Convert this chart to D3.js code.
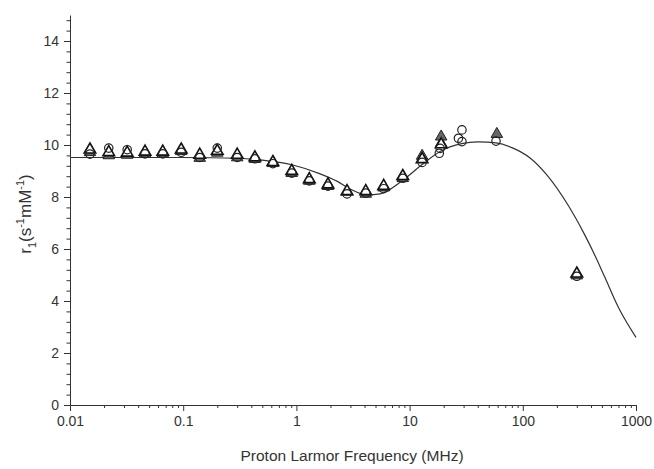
<!DOCTYPE html>
<html lang="en">
<head>
  <meta charset="UTF-8">
  <title>NMRD profile</title>
  <script src="https://d3js.org/d3.v7.min.js"></script>
  <style>
    body {
      margin: 0;
      padding: 0;
      background: #fff;
      font-family: Arial, "Liberation Sans", sans-serif;
    }
    .axis path, .axis line {
      stroke: #333;
    }
    .axis text {
      fill: #333;
      font-size: 14px;
      font-family: Arial, "Liberation Sans", sans-serif;
    }
  </style>
</head>
<body>
  <div id="chart"></div>

  <script>
    const circleFreq = [0.015, 0.022, 0.032, 0.046, 0.066, 0.096, 0.14, 0.2, 0.3, 0.43, 0.62, 0.91, 1.3, 1.9, 2.8, 4.1, 5.9, 8.7, 12.9, 18.3, 18.6, 27, 29, 29, 58, 300];
    const circleR1 = [9.65, 9.88, 9.82, 9.66, 9.66, 9.72, 9.52, 9.88, 9.52, 9.47, 9.28, 8.92, 8.62, 8.42, 8.12, 8.15, 8.32, 8.72, 9.33, 9.68, 9.87, 10.26, 10.58, 10.13, 10.15, 4.95];

    const openTriFreq = [0.015, 0.022, 0.032, 0.046, 0.066, 0.096, 0.14, 0.2, 0.3, 0.43, 0.62, 0.91, 1.3, 1.9, 2.8, 4.1, 5.9, 8.7, 12.9, 19, 300];
    const openTriR1 = [9.82, 9.72, 9.7, 9.74, 9.74, 9.82, 9.62, 9.77, 9.62, 9.52, 9.34, 9.0, 8.68, 8.48, 8.22, 8.22, 8.42, 8.8, 9.45, 10.02, 5.05];

    const grayTriFreq = [0.015, 0.022, 0.032, 0.046, 0.066, 0.096, 0.14, 0.2, 0.3, 0.43, 0.62, 0.91, 1.3, 1.9, 2.8, 4.1, 5.9, 8.7, 12.9, 19, 19, 59, 300];
    const grayTriR1 = [9.72, 9.6, 9.62, 9.66, 9.66, 9.76, 9.5, 9.7, 9.52, 9.46, 9.3, 8.92, 8.62, 8.42, 8.2, 8.12, 8.36, 8.72, 9.58, 10.06, 10.32, 10.42, 4.98];

    // fitted curve
    const fitFreq = [0.01, 0.1, 0.3, 0.5, 0.93, 1.6, 2.3, 3.0, 4.2, 5.5, 8.75, 12.9, 18.6, 28.8, 40, 58, 82, 116, 163, 250, 347, 434, 532, 700, 1000];
    const fitR1 = [9.52, 9.52, 9.49, 9.42, 9.23, 8.9, 8.6, 8.3, 8.08, 8.12, 8.65, 9.25, 9.75, 10.05, 10.12, 10.08, 9.88, 9.5, 8.85, 7.7, 6.6, 5.75, 4.9, 3.75, 2.6];

    const xTicks = [0.01, 0.1, 1, 10, 100, 1000];
    const yTicks = [0, 2, 4, 6, 8, 10, 12, 14];

    const width = 654, height = 469;
    const margin = {top: 15, right: 18, bottom: 64, left: 70};

    const svg = d3.select("#chart").append("svg")
      .attr("width", width)
      .attr("height", height);

    const x = d3.scaleLog()
      .domain([0.01, 1000])
      .range([margin.left, width - margin.right]);

    const y = d3.scaleLinear()
      .domain([0, 15])
      .range([height - margin.bottom, margin.top]);

    // minor ticks
    const xMinor = [];
    for (let e = -2; e < 3; e++) {
      for (let k = 2; k <= 9; k++) xMinor.push(k * Math.pow(10, e));
    }
    const yMinor = d3.range(0, 15.01, 0.4).filter(v => Math.abs(v / 2 - Math.round(v / 2)) > 0.01);

    const xAxisY = height - margin.bottom;

    svg.append("g")
      .attr("class", "axis")
      .attr("transform", `translate(0,${xAxisY})`)
      .call(d3.axisBottom(x).tickValues(xMinor).tickFormat("").tickSize(3).tickSizeOuter(0))
      .call(g => g.select(".domain").remove());

    svg.append("g")
      .attr("class", "axis")
      .attr("transform", `translate(0,${xAxisY})`)
      .call(d3.axisBottom(x).tickValues(xTicks).tickFormat(d3.format("~g")).tickSize(6).tickSizeOuter(0).tickPadding(5));

    svg.append("g")
      .attr("class", "axis")
      .attr("transform", `translate(${margin.left},0)`)
      .call(d3.axisLeft(y).tickValues(yMinor).tickFormat("").tickSize(3.5).tickSizeOuter(0))
      .call(g => g.select(".domain").remove());

    svg.append("g")
      .attr("class", "axis")
      .attr("transform", `translate(${margin.left},0)`)
      .call(d3.axisLeft(y).tickValues(yTicks).tickSize(6).tickSizeOuter(0).tickPadding(5));

    // axis titles
    svg.append("text")
      .attr("x", 352)
      .attr("y", 461)
      .attr("text-anchor", "middle")
      .attr("fill", "#333")
      .style("font-size", "15.5px")
      .text("Proton Larmor Frequency (MHz)");

    const yLab = svg.append("text")
      .attr("transform", `translate(31,214) rotate(-90)`)
      .attr("text-anchor", "middle")
      .attr("fill", "#333")
      .style("font-size", "17px");
    yLab.append("tspan").text("r");
    yLab.append("tspan").attr("dy", 5).style("font-size", "11px").text("1");
    yLab.append("tspan").attr("dy", -5).text("(s");
    yLab.append("tspan").attr("dy", -7).style("font-size", "11px").text("-1");
    yLab.append("tspan").attr("dy", 7).text("mM");
    yLab.append("tspan").attr("dy", -7).style("font-size", "11px").text("-1");
    yLab.append("tspan").attr("dy", 7).text(")");

    // fit line
    const line = d3.line()
      .x((d, i) => x(fitFreq[i]))
      .y(d => y(d))
      .curve(d3.curveMonotoneX);

    svg.append("path")
      .datum(fitR1)
      .attr("fill", "none")
      .attr("stroke", "#333")
      .attr("stroke-width", 1.2)
      .attr("d", line);

    const tri = d3.symbol().type(d3.symbolTriangle).size(58);

    svg.append("g").selectAll("path")
      .data(grayTriR1)
      .join("path")
      .attr("d", tri)
      .attr("transform", (d, i) => `translate(${x(grayTriFreq[i])},${y(d)})`)
      .attr("fill", "#666")
      .attr("stroke", "#222")
      .attr("stroke-width", 1);

    svg.append("g").selectAll("path")
      .data(openTriR1)
      .join("path")
      .attr("d", tri)
      .attr("transform", (d, i) => `translate(${x(openTriFreq[i])},${y(d)})`)
      .attr("fill", "#fff")
      .attr("stroke", "#111")
      .attr("stroke-width", 1.6);

    svg.append("g").selectAll("circle")
      .data(circleR1)
      .join("circle")
      .attr("cx", (d, i) => x(circleFreq[i]))
      .attr("cy", d => y(d))
      .attr("r", 4.2)
      .attr("fill", "none")
      .attr("stroke", "#222")
      .attr("stroke-width", 1.2);
  </script>
</body>
</html>
